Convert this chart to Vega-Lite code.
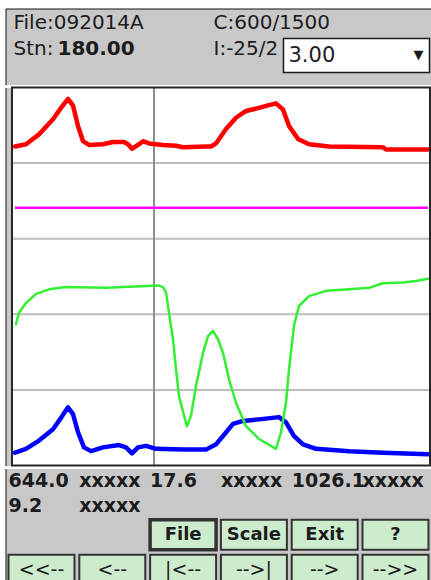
{
  "$schema": "https://vega.github.io/schema/vega-lite/v6.json",
  "background": "white",
  "padding": {"left": 4.5, "top": 7.5, "right": 0, "bottom": 0},
  "spacing": 0,
  "config": {"font": "DejaVu Sans", "text": {"font": "DejaVu Sans", "color": "#1c1c1c"}},
  "datasets": {
    "header": [
      {"area": "info", "line": "1", "pos": "left", "role": "label", "text": "File:092014A"},
      {"area": "info", "line": "2", "pos": "left", "role": "label", "text": "Stn:"},
      {"area": "info", "line": "2", "pos": "left", "role": "value", "text": "180.00"},
      {"area": "info", "line": "1", "pos": "mid", "role": "label", "text": "C:600/1500"},
      {"area": "info", "line": "2", "pos": "mid", "role": "label", "text": "I:-25/2"}
    ],
    "scalebox": [{"area": "box", "text": "3.00", "arrow": "▼"}],
    "traces": [
      {"ch": "top", "x": 3, "y": 4.22}, {"ch": "top", "x": 14, "y": 4.25}, {"ch": "top", "x": 27, "y": 4.38}, {"ch": "top", "x": 41, "y": 4.58},
      {"ch": "top", "x": 49, "y": 4.73}, {"ch": "top", "x": 56, "y": 4.85}, {"ch": "top", "x": 61, "y": 4.76}, {"ch": "top", "x": 66, "y": 4.49},
      {"ch": "top", "x": 71, "y": 4.29}, {"ch": "top", "x": 77, "y": 4.24}, {"ch": "top", "x": 91, "y": 4.25}, {"ch": "top", "x": 101, "y": 4.28},
      {"ch": "top", "x": 112, "y": 4.28}, {"ch": "top", "x": 116, "y": 4.25}, {"ch": "top", "x": 120, "y": 4.19}, {"ch": "top", "x": 126, "y": 4.24},
      {"ch": "top", "x": 131, "y": 4.29}, {"ch": "top", "x": 137, "y": 4.26}, {"ch": "top", "x": 151, "y": 4.24}, {"ch": "top", "x": 164, "y": 4.23},
      {"ch": "top", "x": 171, "y": 4.21}, {"ch": "top", "x": 194, "y": 4.22}, {"ch": "top", "x": 199, "y": 4.22}, {"ch": "top", "x": 204, "y": 4.26},
      {"ch": "top", "x": 214, "y": 4.45}, {"ch": "top", "x": 224, "y": 4.6}, {"ch": "top", "x": 234, "y": 4.69}, {"ch": "top", "x": 247, "y": 4.73},
      {"ch": "top", "x": 255, "y": 4.76}, {"ch": "top", "x": 264, "y": 4.79}, {"ch": "top", "x": 271, "y": 4.71}, {"ch": "top", "x": 277, "y": 4.49},
      {"ch": "top", "x": 286, "y": 4.32}, {"ch": "top", "x": 297, "y": 4.25}, {"ch": "top", "x": 317, "y": 4.22}, {"ch": "top", "x": 371, "y": 4.21},
      {"ch": "top", "x": 374, "y": 4.18}, {"ch": "top", "x": 416, "y": 4.18},
      {"ch": "ref", "x": 3, "y": 3.41}, {"ch": "ref", "x": 416, "y": 3.41},
      {"ch": "bottom", "x": 3, "y": 0.17}, {"ch": "bottom", "x": 14, "y": 0.22}, {"ch": "bottom", "x": 27, "y": 0.33}, {"ch": "bottom", "x": 41, "y": 0.48},
      {"ch": "bottom", "x": 49, "y": 0.63}, {"ch": "bottom", "x": 56, "y": 0.77}, {"ch": "bottom", "x": 61, "y": 0.68}, {"ch": "bottom", "x": 66, "y": 0.44},
      {"ch": "bottom", "x": 72, "y": 0.24}, {"ch": "bottom", "x": 79, "y": 0.19}, {"ch": "bottom", "x": 91, "y": 0.24}, {"ch": "bottom", "x": 107, "y": 0.27},
      {"ch": "bottom", "x": 114, "y": 0.24}, {"ch": "bottom", "x": 120, "y": 0.16}, {"ch": "bottom", "x": 126, "y": 0.24}, {"ch": "bottom", "x": 134, "y": 0.26},
      {"ch": "bottom", "x": 144, "y": 0.22}, {"ch": "bottom", "x": 171, "y": 0.21}, {"ch": "bottom", "x": 194, "y": 0.21}, {"ch": "bottom", "x": 204, "y": 0.28},
      {"ch": "bottom", "x": 211, "y": 0.39}, {"ch": "bottom", "x": 221, "y": 0.55}, {"ch": "bottom", "x": 231, "y": 0.59}, {"ch": "bottom", "x": 247, "y": 0.61},
      {"ch": "bottom", "x": 267, "y": 0.64}, {"ch": "bottom", "x": 274, "y": 0.57}, {"ch": "bottom", "x": 282, "y": 0.39}, {"ch": "bottom", "x": 291, "y": 0.28},
      {"ch": "bottom", "x": 304, "y": 0.22}, {"ch": "bottom", "x": 337, "y": 0.19}, {"ch": "bottom", "x": 371, "y": 0.17}, {"ch": "bottom", "x": 416, "y": 0.15},
      {"ch": "mid", "x": 4, "y": 1.87}, {"ch": "mid", "x": 7, "y": 2.02}, {"ch": "mid", "x": 14, "y": 2.15}, {"ch": "mid", "x": 24, "y": 2.27},
      {"ch": "mid", "x": 37, "y": 2.33}, {"ch": "mid", "x": 54, "y": 2.36}, {"ch": "mid", "x": 94, "y": 2.35}, {"ch": "mid", "x": 147, "y": 2.38},
      {"ch": "mid", "x": 151, "y": 2.36}, {"ch": "mid", "x": 154, "y": 2.29}, {"ch": "mid", "x": 157, "y": 2.02}, {"ch": "mid", "x": 161, "y": 1.67},
      {"ch": "mid", "x": 164, "y": 1.27}, {"ch": "mid", "x": 167, "y": 0.92}, {"ch": "mid", "x": 172, "y": 0.66}, {"ch": "mid", "x": 175, "y": 0.52},
      {"ch": "mid", "x": 179, "y": 0.66}, {"ch": "mid", "x": 184, "y": 1.05}, {"ch": "mid", "x": 191, "y": 1.49}, {"ch": "mid", "x": 196, "y": 1.71},
      {"ch": "mid", "x": 201, "y": 1.78}, {"ch": "mid", "x": 206, "y": 1.67}, {"ch": "mid", "x": 211, "y": 1.49}, {"ch": "mid", "x": 217, "y": 1.14},
      {"ch": "mid", "x": 224, "y": 0.83}, {"ch": "mid", "x": 234, "y": 0.52}, {"ch": "mid", "x": 247, "y": 0.35}, {"ch": "mid", "x": 264, "y": 0.22},
      {"ch": "mid", "x": 269, "y": 0.44}, {"ch": "mid", "x": 274, "y": 0.83}, {"ch": "mid", "x": 277, "y": 1.27}, {"ch": "mid", "x": 282, "y": 1.85},
      {"ch": "mid", "x": 287, "y": 2.11}, {"ch": "mid", "x": 297, "y": 2.24}, {"ch": "mid", "x": 314, "y": 2.31}, {"ch": "mid", "x": 337, "y": 2.33},
      {"ch": "mid", "x": 357, "y": 2.35}, {"ch": "mid", "x": 371, "y": 2.41}, {"ch": "mid", "x": 391, "y": 2.42}, {"ch": "mid", "x": 404, "y": 2.44},
      {"ch": "mid", "x": 416, "y": 2.47}
    ],
    "readouts": [
      {"row": "1", "col": "0", "text": "644.0"}, {"row": "1", "col": "1", "text": "xxxxx"}, {"row": "1", "col": "2", "text": "17.6"},
      {"row": "1", "col": "3", "text": "xxxxx"}, {"row": "1", "col": "4", "text": "1026.1"}, {"row": "1", "col": "5", "text": "xxxxx"},
      {"row": "2", "col": "0", "text": "9.2"}, {"row": "2", "col": "1", "text": "xxxxx"}
    ],
    "buttons": [
      {"row": "1", "col": "2", "label": "File", "focused": true},
      {"row": "1", "col": "3", "label": "Scale", "focused": false},
      {"row": "1", "col": "4", "label": "Exit", "focused": false},
      {"row": "1", "col": "5", "label": "?", "focused": false},
      {"row": "2", "col": "0", "label": "<<--", "focused": false},
      {"row": "2", "col": "1", "label": "<--", "focused": false},
      {"row": "2", "col": "2", "label": "|<--", "focused": false},
      {"row": "2", "col": "3", "label": "-->|", "focused": false},
      {"row": "2", "col": "4", "label": "-->", "focused": false},
      {"row": "2", "col": "5", "label": "-->>", "focused": false}
    ]
  },
  "vconcat": [
    {
      "width": 426,
      "height": 76,
      "view": {"fill": "#c8c8c8", "stroke": "#111111", "strokeWidth": 1, "strokeDash": [426, 502, 76, 0]},
      "resolve": {"scale": {"y": "independent"}},
      "layer": [
        {
          "data": {"name": "header"},
          "transform": [{"filter": "datum.pos === 'left' && datum.role === 'label'"}],
          "mark": {"type": "text", "align": "left", "baseline": "middle", "dx": 8, "dy": 2, "fontSize": 20},
          "encoding": {
            "x": {"field": "area", "type": "nominal", "bandPosition": 0, "axis": null, "scale": {"type": "band", "domain": ["info", "box"], "paddingInner": 0.4748, "paddingOuter": 0.0036, "align": 0}},
            "y": {"field": "line", "type": "ordinal", "axis": null, "scale": {"type": "band", "domain": ["1", "2"], "paddingInner": 0, "paddingOuter": 0.49, "align": 0}},
            "text": {"field": "text"}
          }
        },
        {
          "data": {"name": "header"},
          "transform": [{"filter": "datum.role === 'value'"}],
          "mark": {"type": "text", "align": "left", "baseline": "middle", "dx": 52, "dy": 2, "fontSize": 20, "fontWeight": "bold"},
          "encoding": {
            "x": {"field": "area", "type": "nominal", "bandPosition": 0, "axis": null, "scale": {"type": "band", "domain": ["info", "box"], "paddingInner": 0.4748, "paddingOuter": 0.0036, "align": 0}},
            "y": {"field": "line", "type": "ordinal", "axis": null, "scale": {"type": "band", "domain": ["1", "2"], "paddingInner": 0, "paddingOuter": 0.49, "align": 0}},
            "text": {"field": "text"}
          }
        },
        {
          "data": {"name": "header"},
          "transform": [{"filter": "datum.pos === 'mid'"}],
          "mark": {"type": "text", "align": "left", "baseline": "middle", "dx": 208, "dy": 2, "fontSize": 20},
          "encoding": {
            "x": {"field": "area", "type": "nominal", "bandPosition": 0, "axis": null, "scale": {"type": "band", "domain": ["info", "box"], "paddingInner": 0.4748, "paddingOuter": 0.0036, "align": 0}},
            "y": {"field": "line", "type": "ordinal", "axis": null, "scale": {"type": "band", "domain": ["1", "2"], "paddingInner": 0, "paddingOuter": 0.49, "align": 0}},
            "text": {"field": "text"}
          }
        },
        {
          "data": {"name": "scalebox"},
          "mark": {"type": "rect", "fill": "white", "stroke": "#1a1a1a", "strokeWidth": 1.5},
          "encoding": {
            "x": {"field": "area", "type": "nominal", "axis": null, "scale": {"type": "band", "domain": ["info", "box"], "paddingInner": 0.4748, "paddingOuter": 0.0036, "align": 0}},
            "y": {"field": "area", "type": "nominal", "axis": null, "scale": {"type": "band", "domain": ["box"], "paddingInner": 0, "paddingOuter": 0.618, "align": 0.714}}
          }
        },
        {
          "data": {"name": "scalebox"},
          "mark": {"type": "text", "align": "left", "baseline": "middle", "dx": 5, "dy": 1, "fontSize": 21},
          "encoding": {
            "x": {"field": "area", "type": "nominal", "bandPosition": 0, "axis": null, "scale": {"type": "band", "domain": ["info", "box"], "paddingInner": 0.4748, "paddingOuter": 0.0036, "align": 0}},
            "y": {"field": "area", "type": "nominal", "axis": null, "scale": {"type": "band", "domain": ["box"], "paddingInner": 0, "paddingOuter": 0.618, "align": 0.714}},
            "text": {"field": "text"}
          }
        },
        {
          "data": {"name": "scalebox"},
          "mark": {"type": "text", "align": "right", "baseline": "middle", "dx": -6, "fontSize": 13},
          "encoding": {
            "x": {"field": "area", "type": "nominal", "bandPosition": 1, "axis": null, "scale": {"type": "band", "domain": ["info", "box"], "paddingInner": 0.4748, "paddingOuter": 0.0036, "align": 0}},
            "y": {"field": "area", "type": "nominal", "axis": null, "scale": {"type": "band", "domain": ["box"], "paddingInner": 0, "paddingOuter": 0.618, "align": 0.714}},
            "text": {"field": "arrow"}
          }
        }
      ]
    },
    {
      "width": 426,
      "height": 378,
      "view": {"fill": "#c8c8c8", "stroke": "#111111", "strokeWidth": 1, "strokeDash": [0, 1230, 378, 0]},
      "layer": [
        {
          "data": {"values": [{}]},
          "mark": {"type": "rect", "fill": "white"},
          "encoding": {
            "x": {"datum": 0, "type": "quantitative", "axis": null, "scale": {"domain": [-6.5, 419.5], "nice": false, "zero": false}},
            "x2": {"datum": 418},
            "y": {"datum": 0, "type": "quantitative", "axis": null, "scale": {"domain": [0, 5], "nice": false, "zero": false}},
            "y2": {"datum": 5}
          }
        },
        {
          "data": {"values": [{"level": 1}, {"level": 2}, {"level": 3}, {"level": 4}]},
          "mark": {"type": "rule", "color": "#bdbdbd", "strokeWidth": 2},
          "encoding": {
            "y": {"field": "level", "type": "quantitative"},
            "x": {"datum": 0, "type": "quantitative"},
            "x2": {"datum": 418}
          }
        },
        {
          "data": {"values": [{"cursor": 142}]},
          "mark": {"type": "rule", "color": "#8e8e8e", "strokeWidth": 2},
          "encoding": {
            "x": {"field": "cursor", "type": "quantitative"},
            "y": {"datum": 0, "type": "quantitative"},
            "y2": {"datum": 5}
          }
        },
        {
          "data": {"name": "traces"},
          "transform": [{"filter": "datum.ch === 'top'"}],
          "mark": {"type": "line", "color": "#ff0000", "strokeWidth": 4.5, "strokeJoin": "round", "strokeCap": "round"},
          "encoding": {"x": {"field": "x", "type": "quantitative"}, "y": {"field": "y", "type": "quantitative"}, "order": {"field": "x"}}
        },
        {
          "data": {"name": "traces"},
          "transform": [{"filter": "datum.ch === 'ref'"}],
          "mark": {"type": "line", "color": "#ff00ff", "strokeWidth": 2.5},
          "encoding": {"x": {"field": "x", "type": "quantitative"}, "y": {"field": "y", "type": "quantitative"}, "order": {"field": "x"}}
        },
        {
          "data": {"name": "traces"},
          "transform": [{"filter": "datum.ch === 'bottom'"}],
          "mark": {"type": "line", "color": "#0000ff", "strokeWidth": 4.5, "strokeJoin": "round", "strokeCap": "round"},
          "encoding": {"x": {"field": "x", "type": "quantitative"}, "y": {"field": "y", "type": "quantitative"}, "order": {"field": "x"}}
        },
        {
          "data": {"name": "traces"},
          "transform": [{"filter": "datum.ch === 'mid'"}],
          "mark": {"type": "line", "color": "#33ee33", "strokeWidth": 2.5, "strokeJoin": "round", "strokeCap": "round"},
          "encoding": {"x": {"field": "x", "type": "quantitative"}, "y": {"field": "y", "type": "quantitative"}, "order": {"field": "x"}}
        },
        {
          "data": {"values": [{}]},
          "mark": {"type": "rect", "fill": null, "fillOpacity": 0, "stroke": "#262626", "strokeWidth": 2},
          "encoding": {
            "x": {"datum": 0, "type": "quantitative"},
            "x2": {"datum": 418},
            "y": {"datum": 0, "type": "quantitative"},
            "y2": {"datum": 5}
          }
        }
      ]
    },
    {
      "width": 426,
      "height": 116.2,
      "view": {"fill": "#c8c8c8", "stroke": "#111111", "strokeWidth": 1, "strokeDash": [0, 968.2, 116.2, 0]},
      "resolve": {"scale": {"y": "independent"}},
      "layer": [
        {
          "data": {"name": "readouts"},
          "mark": {"type": "text", "align": "left", "baseline": "middle", "fontSize": 19, "fontWeight": "bold"},
          "encoding": {
            "x": {"field": "col", "type": "ordinal", "bandPosition": 0, "axis": null, "scale": {"type": "band", "domain": ["0", "1", "2", "3", "4", "5"], "paddingInner": 0.068, "paddingOuter": 0.0425, "align": 0.5}},
            "y": {"field": "row", "type": "ordinal", "axis": null, "scale": {"type": "band", "domain": ["1", "2", "3", "4"], "paddingInner": 0, "paddingOuter": 0.324, "align": 0.012}},
            "text": {"field": "text"}
          }
        },
        {
          "data": {"name": "buttons"},
          "mark": {"type": "rect", "fill": "#cdeccd", "stroke": "#333333"},
          "encoding": {
            "x": {"field": "col", "type": "ordinal", "axis": null, "scale": {"type": "band", "domain": ["0", "1", "2", "3", "4", "5"], "paddingInner": 0.068, "paddingOuter": 0.0425, "align": 0.5}},
            "y": {"field": "row", "type": "ordinal", "axis": null, "scale": {"type": "band", "domain": ["1", "2"], "paddingInner": 0.1429, "paddingOuter": 0.7315, "align": 1}},
            "strokeWidth": {"condition": {"test": "datum.focused", "value": 3.5}, "value": 2}
          }
        },
        {
          "data": {"name": "buttons"},
          "transform": [{"filter": "datum.row === '1'"}],
          "mark": {"type": "text", "align": "center", "baseline": "middle", "fontSize": 18, "fontWeight": "bold"},
          "encoding": {
            "x": {"field": "col", "type": "ordinal", "axis": null, "scale": {"type": "band", "domain": ["0", "1", "2", "3", "4", "5"], "paddingInner": 0.068, "paddingOuter": 0.0425, "align": 0.5}},
            "y": {"field": "row", "type": "ordinal", "axis": null, "scale": {"type": "band", "domain": ["1", "2"], "paddingInner": 0.1429, "paddingOuter": 0.7315, "align": 1}},
            "text": {"field": "label"}
          }
        },
        {
          "data": {"name": "buttons"},
          "transform": [{"filter": "datum.row === '2'"}],
          "mark": {"type": "text", "align": "center", "baseline": "middle", "fontSize": 19},
          "encoding": {
            "x": {"field": "col", "type": "ordinal", "axis": null, "scale": {"type": "band", "domain": ["0", "1", "2", "3", "4", "5"], "paddingInner": 0.068, "paddingOuter": 0.0425, "align": 0.5}},
            "y": {"field": "row", "type": "ordinal", "axis": null, "scale": {"type": "band", "domain": ["1", "2"], "paddingInner": 0.1429, "paddingOuter": 0.7315, "align": 1}},
            "text": {"field": "label"}
          }
        }
      ]
    }
  ]
}
